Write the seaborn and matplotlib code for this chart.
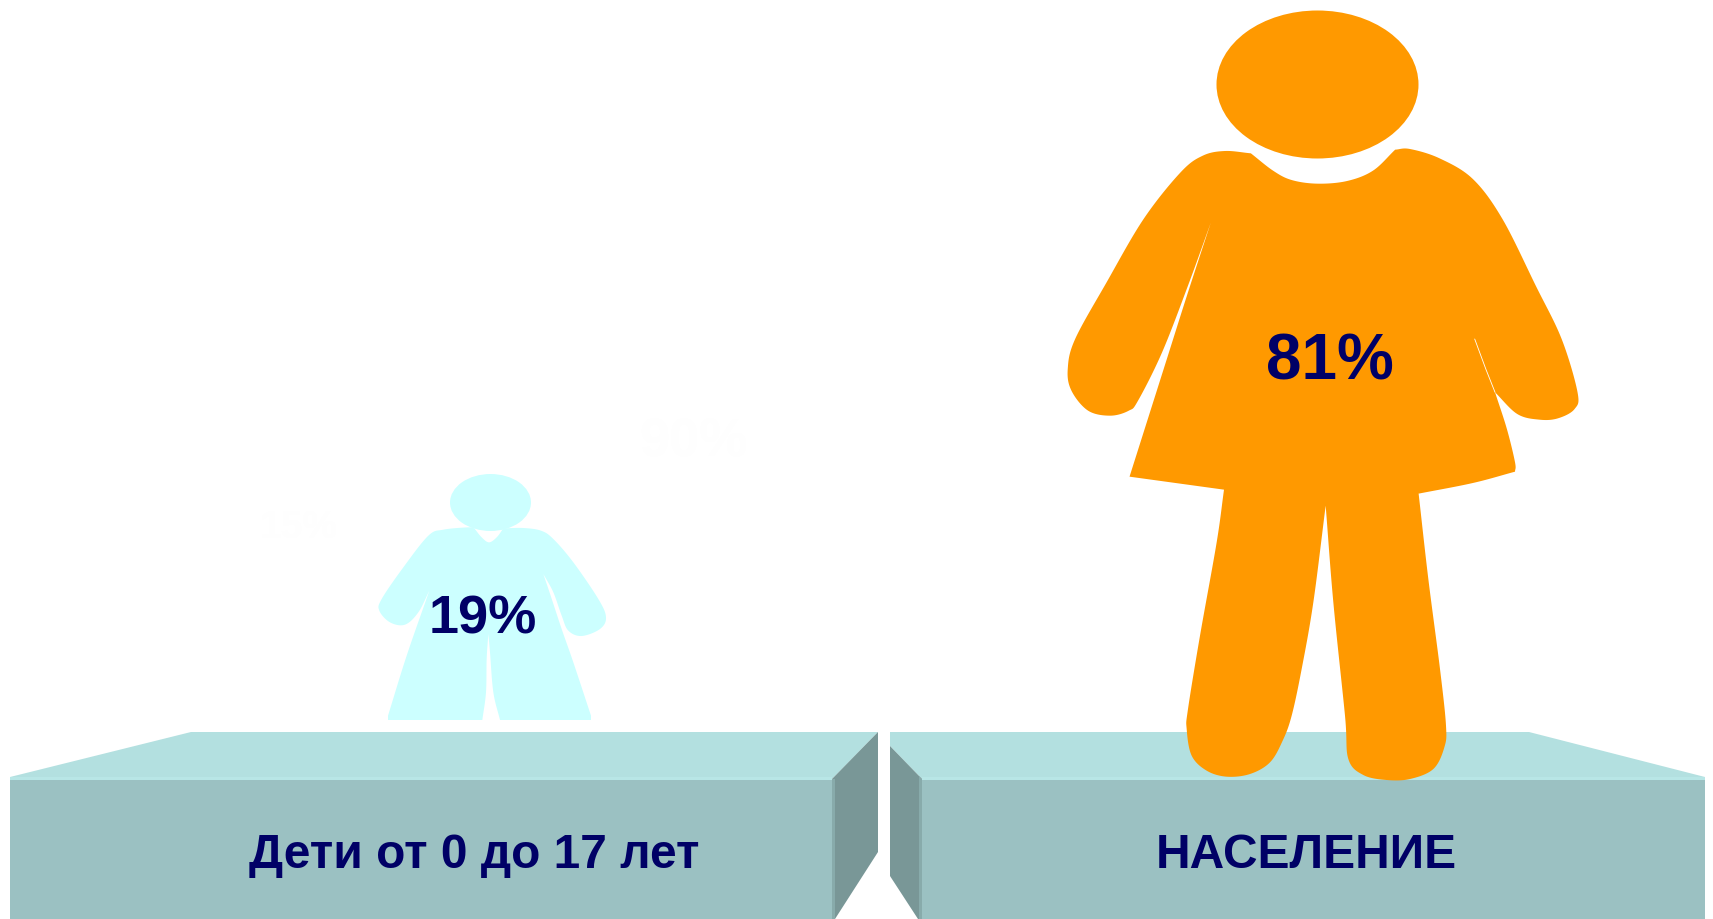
import numpy as np
import pandas as pd
import matplotlib
matplotlib.use("Agg")
import matplotlib.pyplot as plt
from matplotlib.markers import MarkerStyle
from matplotlib.path import Path
from matplotlib.patches import Polygon
import seaborn as sns

# ---- chart values -------------------------------------------------------
categories = ["Дети от 0 до 17 лет", "НАСЕЛЕНИЕ"]
shares = [19, 81]
figure_colors = ["#CCFFFF", "#FF9900"]
ghost_labels = ["15%", "90%"]

NAVY = "#000066"
TOP = "#B3E0E0"
TOP_EDGE = "#B8E6E6"
FRONT = "#9BC1C2"
SIDE = "#799797"
SIDE_EDGE = "#88ABAB"


def catmull(pts, n=14):
    pts = np.asarray(pts, float)
    if len(pts) < 3:
        return pts
    p = np.vstack([2 * pts[0] - pts[1], pts, 2 * pts[-1] - pts[-2]])
    out = []
    for i in range(1, len(p) - 2):
        t = np.linspace(0, 1, n, endpoint=False)[:, None]
        a, b, c, d = p[i - 1], p[i], p[i + 1], p[i + 2]
        out.append(0.5 * (2 * b + (c - a) * t + (2 * a - 5 * b + 4 * c - d) * t ** 2
                          + (3 * b - a - 3 * c + d) * t ** 3))
    out.append(pts[-1:])
    return np.vstack(out)


def outline(segments):
    return np.vstack([catmull(s) for s in segments])


def z2(pts):
    return [(1040 + x / 2.703, y / 3) for x, y in pts]


def z3(pts):
    return [(1100 + x / 3, 470 + y / 3) for x, y in pts]


def z1(pts):
    return [(340 + x / 3, 400 + y / 3) for x, y in pts]


adult_shape = [
    z2([(570, 463), (630, 515), (680, 543), (750, 554), (830, 546), (900, 515), (960, 452)]),
    z2([(960, 452), (1000, 450), (1080, 478), (1170, 540), (1250, 660), (1340, 860), (1410, 1020),
        (1453, 1180), (1445, 1230), (1400, 1258), (1350, 1262), (1290, 1245), (1230, 1180)]),
    z2([(1230, 1180), (1262, 1290), (1284, 1390), (1284, 1418)]),
    z2([(1284, 1418), (1170, 1452), (1023, 1484)]),
    z3([(956, 75), (985, 330), (1020, 600), (1038, 770), (1033, 835), (1000, 900), (930, 930),
        (860, 933), (790, 918), (745, 870), (735, 740), (700, 400), (677, 110)]),
    z3([(677, 110), (640, 400), (605, 600), (575, 740), (548, 815), (510, 880), (450, 915),
        (380, 923), (320, 905), (275, 860), (260, 780), (264, 720), (300, 500), (350, 220), (372, 62)]),
    z2([(242, 1433), (340, 1090), (400, 880), (462, 670)]),
    z2([(462, 670), (400, 860), (330, 1060), (265, 1205), (240, 1235), (190, 1250), (130, 1235),
        (85, 1175), (75, 1110), (95, 1020), (180, 850), (280, 660), (380, 520), (440, 470),
        (500, 456), (570, 463)]),
]

child_shape = [
    z1([(403, 388), (425, 415), (447, 430), (470, 415), (490, 388)]),
    z1([(490, 388), (550, 387), (603, 395), (640, 420), (700, 490), (775, 600), (798, 655),
        (780, 690), (725, 711), (685, 695), (665, 650), (640, 580), (610, 525)]),
    z1([(610, 525), (632, 590), (665, 690), (700, 790), (753, 950)]),
    z1([(753, 950), (753, 963)]),
    z1([(753, 963), (480, 963)]),
    z1([(480, 963), (460, 880), (450, 760), (445, 705)]),
    z1([(445, 705), (440, 780), (438, 880), (427, 963)]),
    z1([(427, 963), (144, 963)]),
    z1([(144, 963), (144, 950)]),
    z1([(144, 950), (200, 770), (268, 575)]),
    z1([(268, 575), (235, 640), (195, 677), (150, 670), (118, 635), (125, 600), (190, 505),
        (265, 410), (310, 392), (385, 385), (403, 388)]),
]

# ---- figure -------------------------------------------------------------
sns.set_theme(style="white")
plt.rcParams["font.family"] = ["Liberation Sans", "DejaVu Sans"]

fig = plt.figure(figsize=(17.13, 9.2), dpi=100, facecolor="white")
ax = fig.add_axes([0, 0, 1, 1])
ax.set_xlim(0, 1713)
ax.set_ylim(920, 0)
ax.axis("off")


def face(pts, color, z=1):
    ax.add_patch(Polygon(pts, closed=True, facecolor=color, edgecolor="none", zorder=z))


# left platform
face([(10, 778), (191, 733), (878, 733), (832, 780), (10, 780)], TOP)
face([(10, 778), (832, 778), (832, 781), (10, 781)], TOP_EDGE, 2)
face([(10, 780), (832, 780), (832, 920), (10, 920)], FRONT)
face([(832, 780), (878, 733), (878, 853), (835, 920), (832, 920)], SIDE)
face([(832, 780), (835, 780), (835, 920), (832, 920)], SIDE_EDGE, 2)

# right platform
face([(890, 733), (1529, 733), (1705, 778), (1705, 780), (922, 780), (890, 747)], TOP)
face([(922, 778), (1705, 778), (1705, 781), (922, 781)], TOP_EDGE, 2)
face([(922, 780), (1705, 780), (1705, 920), (922, 920)], FRONT)
face([(890, 747), (922, 780), (922, 920), (918, 920), (890, 877)], SIDE)
face([(919, 777), (922, 780), (922, 920), (919, 920)], SIDE_EDGE, 2)

# silhouettes
face(outline(child_shape), figure_colors[0], 3)
face(outline(adult_shape), figure_colors[1], 3)
ax.plot(*zip(*z2([(1175, 1020), (1205, 1110), (1230, 1180)])), color="white", lw=0.6, zorder=4)

# heads drawn by seaborn with elliptical markers
heads = pd.DataFrame({
    "x": [489.5, 1317],
    "y": [503, 85],
    "w": [81, 202],
    "h": [57, 148],
    "color": figure_colors,
})
for _, r in heads.iterrows():
    unit = Path.unit_circle()
    marker = MarkerStyle(Path(unit.vertices * [r.w / max(r.w, r.h), r.h / max(r.w, r.h)], unit.codes))
    sns.scatterplot(x=[r.x], y=[r.y], ax=ax, marker=marker, s=(r.w * 0.72) ** 2,
                    color=r.color, linewidth=0, zorder=3, legend=False)
ax.set_xlim(0, 1713)
ax.set_ylim(920, 0)
ax.set_xlabel("")
ax.set_ylabel("")

# labels
pct_pos = [(483, 634), (1330, 380)]
pct_size = [39, 46]
for v, (x, y), s in zip(shares, pct_pos, pct_size):
    ax.text(x, y, f"{v}%", ha="center", va="baseline", fontsize=s, fontweight="bold",
            color=NAVY, zorder=5)

for c, x in zip(categories, [474, 1306]):
    ax.text(x, 868, c, ha="center", va="baseline", fontsize=34.5, fontweight="bold",
            color=NAVY, zorder=5)

# almost invisible leftovers in the background
for t, x, y, s in zip(ghost_labels, [299, 693], [538, 457], [28, 39]):
    ax.text(x, y, t, ha="center", va="baseline", fontsize=s, fontweight="bold",
            color="#FEFEFE", zorder=0)

fig.savefig("out.png", dpi=100, facecolor="white")
